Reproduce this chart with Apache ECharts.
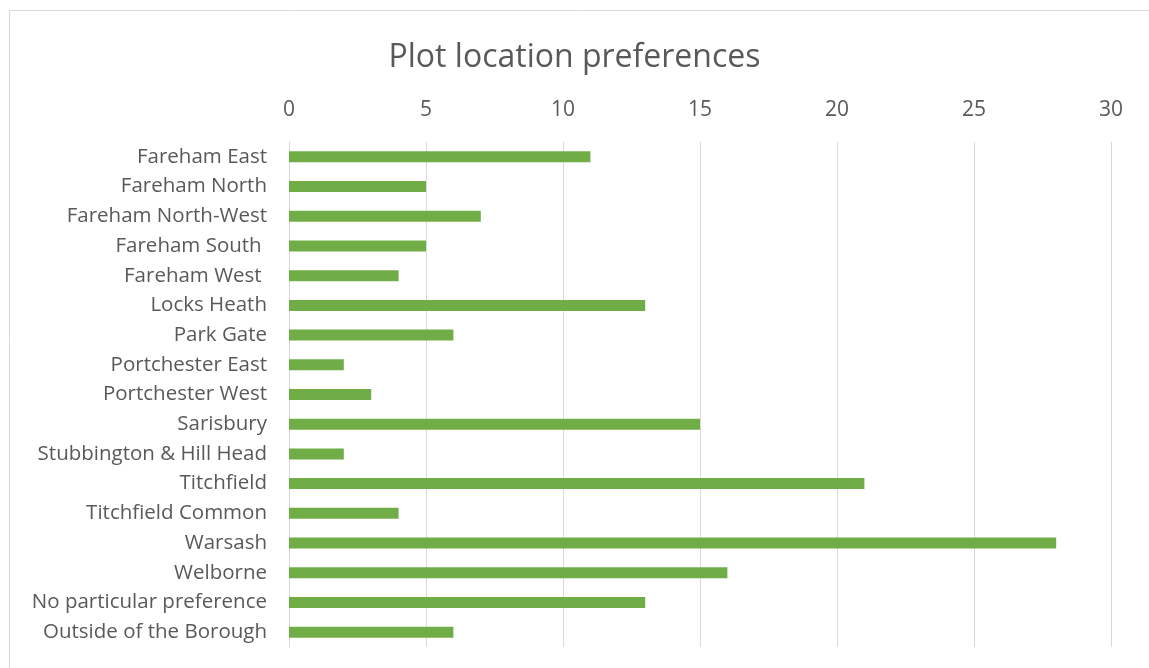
<!DOCTYPE html>
<html>
<head>
<meta charset="utf-8">
<script src="https://cdn.jsdelivr.net/npm/echarts@6/dist/echarts.min.js"></script>
<style>
    html, body { margin: 0; padding: 0; background: #fff; }
    #chart { width: 1149px; height: 668px; }
</style>
</head>
<body>
<div id="chart"></div>
<script>
const categories = [
    'Fareham East', 'Fareham North', 'Fareham North-West', 'Fareham South ',
    'Fareham West ', 'Locks Heath', 'Park Gate', 'Portchester East',
    'Portchester West', 'Sarisbury', 'Stubbington & Hill Head', 'Titchfield',
    'Titchfield Common', 'Warsash', 'Welborne', 'No particular preference',
    'Outside of the Borough'
];
const counts = [11, 5, 7, 5, 4, 13, 6, 2, 3, 15, 2, 21, 4, 28, 16, 13, 6];
const xTicks = [0, 30, 5];

(function (echarts) {
    'use strict';

    const fontFamily = '"Open Sans", "Noto Sans", sans-serif';
    const textColor = '#595959';
    const gridColor = '#d9d9d9';

    const handle = echarts.init(document.getElementById('chart'), null, {renderer: 'canvas'});

    handle.setOption({
        backgroundColor: '#ffffff',
        animation: false,
        graphic: [{
            type: 'rect',
            shape: {x: 9.5, y: 10.5, width: 1160, height: 680},
            style: {fill: 'none', stroke: '#d9d9d9', lineWidth: 1},
            silent: true
        }],
        title: {
            text: 'Plot location preferences',
            left: 'center',
            top: 37,
            textStyle: {
                fontFamily: fontFamily,
                fontSize: 32,
                fontWeight: 'normal',
                color: textColor
            }
        },
        grid: {
            left: 289,
            right: 38,
            top: 142,
            bottom: 21,
            containLabel: false
        },
        xAxis: {
            type: 'value',
            position: 'top',
            min: xTicks[0],
            max: xTicks[1],
            interval: xTicks[2],
            axisLine: {show: false},
            axisTick: {show: false},
            splitLine: {lineStyle: {color: gridColor, width: 1}},
            axisLabel: {
                margin: 21,
                fontFamily: fontFamily,
                fontSize: 21,
                color: textColor
            }
        },
        yAxis: {
            type: 'category',
            inverse: true,
            data: categories,
            axisLine: {show: true, lineStyle: {color: gridColor, width: 1}},
            axisTick: {show: false},
            axisLabel: {
                margin: 22,
                fontFamily: fontFamily,
                fontSize: 20.5,
                color: textColor
            }
        },
        series: [{
            type: 'bar',
            data: counts,
            barWidth: 11,
            itemStyle: {color: '#70ad47'}
        }]
    });

    window.addEventListener('resize', function () {
        handle.resize();
    });
})(echarts);
</script>
</body>
</html>
